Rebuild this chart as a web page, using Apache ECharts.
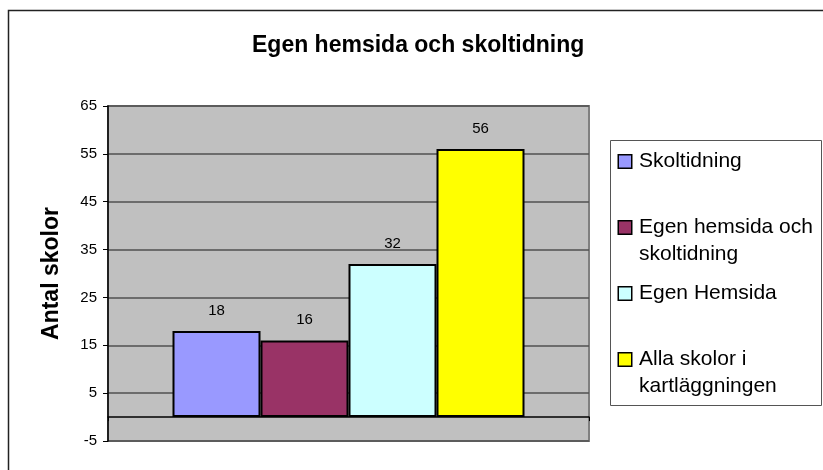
<!DOCTYPE html>
<html>
<head>
<meta charset="utf-8">
<script src="https://cdn.jsdelivr.net/npm/echarts@6/dist/echarts.min.js"></script>
<style>
  html, body { margin: 0; padding: 0; background: #fff; }
  #chart { width: 823px; height: 470px; }
</style>
</head>
<body>
<div id="chart"></div>
<script>
// data
const categories = ['']
const seriesNames = ['Skoltidning', 'Egen hemsida och\nskoltidning', 'Egen Hemsida', 'Alla skolor i\nkartläggningen']
const seriesValues = [18, 16, 32, 56]
const seriesColors = ['#9999FF', '#993366', '#CCFFFF', '#FFFF00']
const yTicks = { min: -5, max: 65, step: 10 }

const FONT = 'Arial, "Liberation Sans", sans-serif'

const chart = echarts.init(document.getElementById('chart'))

// rich styles for legend squares, one per series
const rich = {
  t: { fontSize: 21, fontFamily: FONT, color: '#000', lineHeight: 27, padding: [0, 0, 0, 8] },
  b: { fontSize: 21, fontFamily: FONT, color: '#000', lineHeight: 27, width: 12 }
}
seriesColors.forEach((c, i) => {
  rich['s' + i] = { width: 12, height: 12, backgroundColor: c, borderColor: '#000', borderWidth: 1.5 }
})

const series = seriesNames.map((name, i) => ({
  name,
  type: 'bar',
  data: [seriesValues[i]],
  barWidth: 88,
  barGap: '0%',
  itemStyle: { color: seriesColors[i], borderColor: '#000', borderWidth: 2 },
  label: {
    show: true,
    position: 'top',
    distance: 13,
    color: '#000',
    fontSize: 15,
    fontFamily: FONT
  }
}))

const option = {
  animation: false,
  title: {
    text: 'Egen hemsida och skoltidning',
    left: 252,
    top: 34,
    padding: 0,
    textStyle: { fontSize: 23, fontWeight: 'bold', fontFamily: FONT, color: '#000' }
  },
  legend: {
    orient: 'vertical',
    left: 614,
    top: 151,
    padding: 0,
    itemGap: 18,
    itemWidth: 0,
    itemHeight: 0,
    icon: 'none',
    data: seriesNames,
    formatter: (name) => {
      const i = seriesNames.indexOf(name)
      const lines = name.split('\n')
      const first = `{s${i}|}{t|${lines[0]}}`
      const second = lines[1] ? `{b|}{t|${lines[1]}}` : '{b|}{t| }'
      return first + '\n' + second
    },
    textStyle: { rich }
  },
  grid: {
    left: 108,
    right: 234,
    top: 106,
    bottom: 29,
    show: true,
    backgroundColor: '#C0C0C0',
    borderColor: '#808080',
    borderWidth: 2
  },
  xAxis: {
    type: 'category',
    data: categories,
    axisLine: { onZero: true, lineStyle: { color: '#000', width: 1.5 } },
    axisTick: { show: true, length: 4, lineStyle: { color: '#000' } },
    axisLabel: { show: false },
    splitLine: { show: false }
  },
  yAxis: {
    type: 'value',
    min: yTicks.min,
    max: yTicks.max,
    interval: yTicks.step,
    name: 'Antal skolor',
    nameLocation: 'middle',
    nameGap: 45,
    nameRotate: 90,
    nameTextStyle: { fontSize: 23, fontWeight: 'bold', fontFamily: FONT, color: '#000' },
    axisLine: { show: true, lineStyle: { color: '#000', width: 1.5 } },
    axisTick: { show: true, length: 5, lineStyle: { color: '#000' } },
    axisLabel: { fontSize: 15, fontFamily: FONT, color: '#000', margin: 11 },
    splitLine: { lineStyle: { color: '#505050', width: 1.5 } }
  },
  graphic: [
    // outer chart frame (right and bottom edges fall outside the picture)
    { type: 'rect', silent: true, z: -1, shape: { x: 8.5, y: 10.5, width: 1000, height: 1000 },
      style: { fill: null, stroke: '#222', lineWidth: 1.5 } },
    // legend box
    { type: 'rect', silent: true, shape: { x: 610.5, y: 140.5, width: 211, height: 265 },
      style: { fill: '#fff', stroke: '#555', lineWidth: 1 }, z: -1 }
  ],
  series
}

chart.setOption(option)
</script>
</body>
</html>
